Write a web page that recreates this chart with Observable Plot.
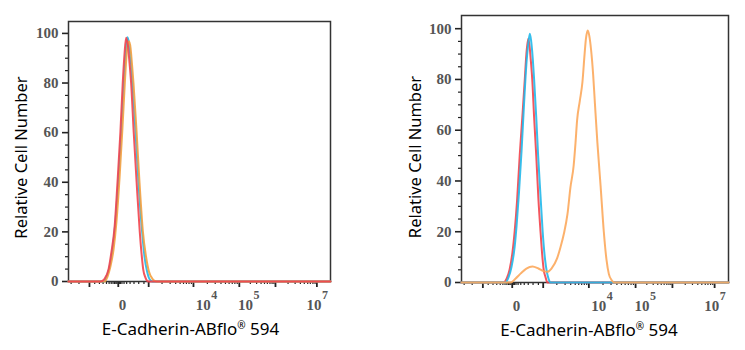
<!DOCTYPE html>
<html>
<head>
<meta charset="utf-8">
<script src="https://cdn.jsdelivr.net/npm/d3@7"></script>
<script src="https://cdn.jsdelivr.net/npm/@observablehq/plot@0.6"></script>
<style>
  html, body { margin: 0; padding: 0; background: #fff; }
  #wrap { position: relative; width: 745px; height: 350px; }
  #left { position: absolute; left: 0; top: 0; }
  #right { position: absolute; left: 370px; top: 0; }
</style>
</head>
<body>
<div id="wrap"><div id="left"></div><div id="right"></div></div>
<script>
// ---- data (x in display channel units 0..1000 of the biexponential axis, y = relative cell number) ----
const xLabelText = "E-Cadherin-ABflo® 594";
const yLabelText = "Relative Cell Number";

const yMajorTicks = [0, 20, 40, 60, 80, 100];
const yMinorTicks = [5, 10, 15, 25, 30, 35, 45, 50, 55, 65, 70, 75, 85, 90, 95];

const xTickPos = [206, 514, 676, 937];
const xTickBase = ["0", "10", "10", "10"];
const xTickExp = ["", "4", "5", "7"];
const xMajorTicks = [80, 190, 306, 477, 652, 790, 948];
const xMinorTicks = [10, 40, 100, 118, 132, 145, 155, 163, 170, 176, 181, 185, 194, 198, 204, 212, 222, 235, 250, 268, 288,
  357, 388, 409, 426, 439, 450, 460, 469, 530, 560, 582, 599, 613, 625, 635, 644,
  694, 718, 735, 748, 759, 769, 777, 784, 838, 865, 885, 900, 913, 923, 933, 941];

// left panel
const leftRedX = [0, 122, 137, 153, 164, 176, 187, 198, 207, 214, 220, 227, 233, 239, 249, 260, 272, 279, 285, 294, 305, 1000];
const leftRedY = [0, 0, 1, 5, 12, 22, 40, 60, 80, 92, 98.3, 95, 88, 80, 60, 40, 20, 11, 5, 1.5, 0, 0];
const leftCyanX = [0, 134, 145, 157, 168, 179, 191, 202, 212, 220, 225, 231, 237, 244, 256, 267, 281, 290, 300, 309, 321, 1000];
const leftCyanY = [0, 0, 2, 6, 13, 24, 42, 62, 82, 94, 98.5, 96, 90, 80, 60, 40, 20, 10, 4, 1, 0, 0];
const leftOrangeX = [0, 137, 149, 160, 172, 183, 195, 206, 216, 223, 231, 237, 242, 248, 260, 271, 284, 296, 307, 321, 336, 1000];
const leftOrangeY = [0, 0, 2, 6, 13, 24, 42, 62, 82, 93, 96.8, 94, 88, 80, 60, 40, 20, 10, 4, 1, 0, 0];

// right panel
const rightRedX = [0, 157, 169, 180, 191, 199, 208, 218, 229, 237, 243, 250, 255, 260, 265, 272, 280, 288, 296, 303, 308, 315, 322, 1000];
const rightRedY = [0, 0, 1.5, 5, 12, 20, 32, 50, 67, 80, 90, 96, 93, 87, 80, 65, 50, 33, 20, 10, 5, 2, 0, 0];
const rightCyanX = [0, 165, 176, 187, 199, 206, 215, 225, 234, 243, 250, 256, 261, 267, 272, 280, 287, 296, 304, 313, 320, 326, 333, 1000];
const rightCyanY = [0, 0, 2, 6, 14, 22, 35, 52, 70, 86, 94, 98, 95, 88, 80, 65, 50, 34, 20, 9, 4, 1.5, 0, 0];
const rightOrangeX = [0, 184, 202, 221, 243, 266, 288, 307, 322, 337, 358, 371, 383, 397, 408, 420, 427, 433, 443, 453,
  461, 466, 473, 479, 485, 493, 500, 509, 521, 533, 543, 552, 562, 573, 1000];
const rightOrangeY = [0, 0, 1.5, 3.5, 5.5, 6.3, 5.5, 4.5, 4.2, 5.5, 9.5, 14, 19, 27, 37.5, 46, 55, 64, 71.5, 79,
  90, 96, 99.3, 97, 92, 82, 70, 55, 38, 20, 9, 3.3, 1, 0, 0];

// ---- styling ----
const RED = "#f2444c", CYAN = "#22b8ea", ORANGE_L = "#f4a040", ORANGE_R = "#fca85c";
const SERIF = "'Liberation Serif', 'DejaVu Serif', serif";
const SANS = "'Noto Sans', 'Open Sans', sans-serif";
const TICKFILL = "#555";

function zip(xs, ys) { return xs.map((x, i) => ({x, y: ys[i]})); }

function panel(o) {
  const marks = [
    Plot.axisY(yMinorTicks, {tickSize: 3, tickFormat: () => "", label: null, stroke: "#222", strokeWidth: 1.2}),
    Plot.axisY(yMajorTicks, {tickSize: 6, tickPadding: 4, label: null, stroke: "#222", strokeWidth: 1.6,
      fill: TICKFILL, fontFamily: SERIF, fontWeight: "bold", fontSize: 15}),
    Plot.axisX(xMinorTicks, {tickSize: 3, tickFormat: () => "", label: null, stroke: "#222", strokeWidth: 1.2}),
    Plot.axisX(xMajorTicks, {tickSize: 6, tickFormat: () => "", label: null, stroke: "#222", strokeWidth: 1.8}),
    Plot.text(xTickPos, {x: (d) => d, text: (d, i) => xTickBase[i], frameAnchor: "bottom", lineAnchor: "middle", dy: 24,
      fontFamily: SERIF, fontWeight: "bold", fontSize: 15, fill: TICKFILL}),
    Plot.text(xTickPos, {x: (d) => d, text: (d, i) => xTickExp[i], frameAnchor: "bottom", lineAnchor: "middle", dy: 14, dx: 8,
      textAnchor: "start", fontFamily: SERIF, fontWeight: "bold", fontSize: 12, fill: TICKFILL}),
    Plot.frame({stroke: "#333", strokeWidth: 1.5}),
    ...o.series.map((s) => Plot.line(zip(s.x, s.y), {x: "x", y: "y", stroke: s.color, strokeWidth: 2,
      strokeOpacity: 0.9, curve: "monotone-x"})),
    Plot.text([yLabelText], {text: (d) => d, frameAnchor: "left", textAnchor: "middle", lineAnchor: "middle",
      rotate: -90, dx: o.ylabDx, dy: o.ylabDy, fontFamily: SANS, fontSize: 16.5, fill: "#000"}),
    Plot.text([xLabelText], {text: (d) => d, frameAnchor: "bottom", textAnchor: "middle", lineAnchor: "middle",
      dy: 48, dx: o.xlabDx, fontFamily: SANS, fontSize: 17, fill: "#000"})
  ];
  const svg = Plot.plot({
    width: o.width, height: 350,
    marginLeft: o.ml, marginRight: o.mr, marginTop: o.mt, marginBottom: o.mb,
    x: {domain: [0, 1000], axis: null},
    y: {domain: [0, o.yMax], axis: null},
    marks
  });
  // superscript registered sign
  svg.querySelectorAll("text").forEach((t) => {
    if (t.textContent === xLabelText) {
      const parts = xLabelText.split("®");
      t.textContent = "";
      const ns = "http://www.w3.org/2000/svg";
      const a = document.createElementNS(ns, "tspan"); a.textContent = parts[0];
      const b = document.createElementNS(ns, "tspan"); b.textContent = "®";
      b.setAttribute("font-size", "10"); b.setAttribute("dy", "-6");
      const c = document.createElementNS(ns, "tspan"); c.textContent = parts[1];
      c.setAttribute("dy", "6");
      t.append(a, b, c);
    }
  });
  return svg;
}

document.getElementById("left").append(panel({
  width: 370, ml: 68, mr: 40, mt: 21, mb: 69, yMax: 104.8,
  xlabDx: -9, ylabDx: -47, ylabDy: 6,
  series: [
    {x: leftCyanX, y: leftCyanY, color: CYAN},
    {x: leftOrangeX, y: leftOrangeY, color: ORANGE_L},
    {x: leftRedX, y: leftRedY, color: RED}
  ]
}));

document.getElementById("right").append(panel({
  width: 375, ml: 91, mr: 17, mt: 15, mb: 68, yMax: 105.2,
  xlabDx: -6, ylabDx: -46, ylabDy: 8,
  series: [
    {x: rightRedX, y: rightRedY, color: RED},
    {x: rightCyanX, y: rightCyanY, color: CYAN},
    {x: rightOrangeX, y: rightOrangeY, color: ORANGE_R}
  ]
}));
</script>
</body>
</html>
